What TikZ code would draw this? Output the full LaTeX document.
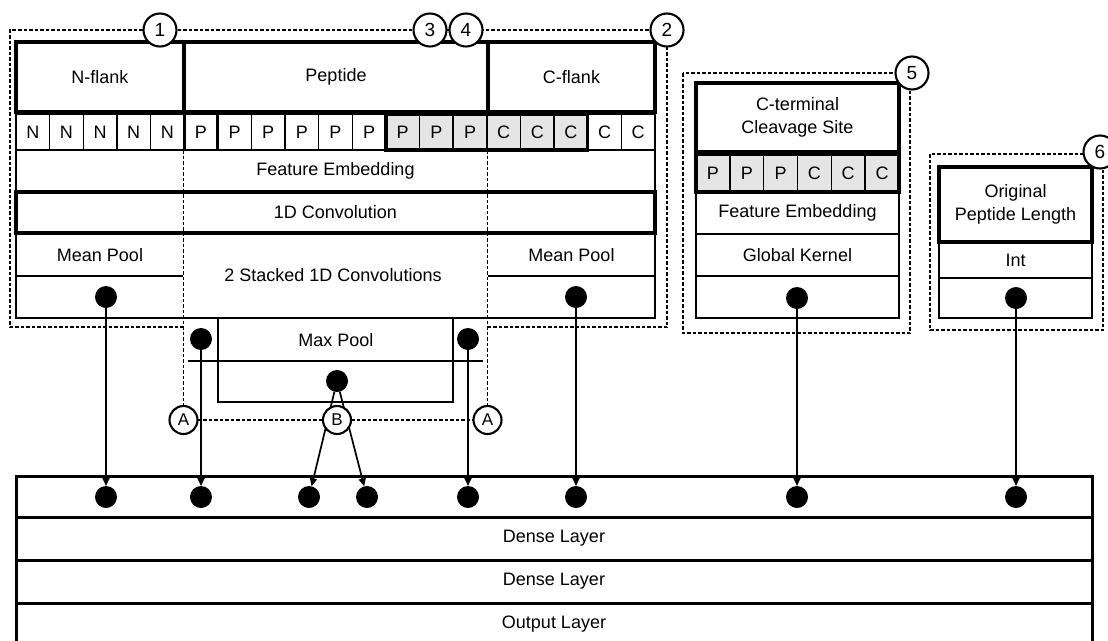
\documentclass[tikz,border=0pt]{standalone}
\usepackage{fontspec}
\setmainfont{Liberation Sans}
\usetikzlibrary{arrows.meta}
\definecolor{shadegray}{gray}{0.9}
\begin{document}
\begin{tikzpicture}[x=1pt,y=-1pt,
  every node/.style={font=\fontsize{18}{23}\selectfont, inner sep=0pt, outer sep=0pt},
  tbox/.style={draw, line width=1.8pt},
  kbox/.style={draw, line width=4.4pt},
  mbox/.style={draw, line width=3.2pt},
  bbox/.style={draw, line width=3pt},
  cellbox/.style={draw, line width=1.4pt, minimum height=36pt, anchor=north west},
  dashline/.style={line width=1.9pt, dash pattern=on 3.5pt off 2pt},
  dot/.style={circle, fill=black, minimum size=22pt},
  num/.style={circle, draw, fill=white, line width=2.1pt, minimum size=33pt, font=\fontsize{19}{19}\selectfont},
  lett/.style={circle, draw, fill=white, line width=2.1pt, minimum size=28pt, font=\fontsize{17}{17}\selectfont},
  arr/.style={-{Triangle[length=8pt,width=7pt]}, line width=1.7pt}
]
\useasboundingbox (0,0) rectangle (1108,640);
\clip (0,0) rectangle (1108,640);

% ---------- left main block ----------
\node[kbox, minimum width=168pt, minimum height=70pt] (nflank) at (100,77) {N-flank};
\node[kbox, minimum width=304pt, minimum height=70pt] (pep) at (336,77) {Peptide};
\node[kbox, minimum width=167pt, minimum height=70pt] (cflank) at (571.5,77) {C-flank};

\foreach \i/\t/\f in {0/N/white,1/N/white,2/N/white,3/N/white,4/N/white,
  5/P/white,6/P/white,7/P/white,8/P/white,9/P/white,10/P/white,
  11/P/shadegray,12/P/shadegray,13/P/shadegray,
  14/C/shadegray,15/C/shadegray,16/C/shadegray,17/C/white,18/C/white}
  \node[cellbox, fill=\f, minimum width=33.63pt] (cell\i) at ({16+\i*33.63},114) {\t};
\draw[line width=2.8pt] (cell5.north west) rectangle (cell5.south east);
\draw[line width=3.4pt] (cell11.north west) rectangle (cell16.south east);

\node[tbox, minimum width=639pt, minimum height=42pt] (fe) at (335.5,171) {Feature Embedding};
\node[mbox, minimum width=639pt, minimum height=41pt] (conv) at (335.5,212.5) {1D Convolution};
\node[tbox, minimum width=639pt, minimum height=85pt] (lower) at (335.5,275.5) {};
\node (stack) at (333,275.5) {2 Stacked 1D Convolutions};
\node (mpl) at (100,255) {Mean Pool};
\node (mpr) at (571.5,255) {Mean Pool};
\coordinate (mplA) at (16,276);
\coordinate (mplB) at (183,276);
\coordinate (mprA) at (488,276);
\coordinate (mprB) at (655,276);
\draw[line width=1.8pt] (mplA) -- (mplB);
\draw[line width=1.8pt] (mprA) -- (mprB);

% max pool
\node[tbox, minimum width=235pt, minimum height=84pt] (mpbox) at (335.5,360) {};
\node (maxpool) at (336,340) {Max Pool};
\coordinate (mpdl) at (188,361);
\coordinate (mpdr) at (483,361);
\draw[line width=1.4pt] (mpdl) -- (mpdr);

% ---------- box 5 ----------
\node[kbox, align=center, minimum width=203pt, minimum height=69pt] (cts) at (797.5,117.5) {C-terminal\\Cleavage Site};
\foreach \i/\t in {0/P,1/P,2/P,3/C,4/C,5/C}
  \node[cellbox, fill=shadegray, minimum width=33.83pt, minimum height=38pt] (sc\i) at ({696+\i*33.83},154) {\t};
\draw[line width=3.4pt] (sc0.north west) rectangle (sc5.south east);
\node[tbox, minimum width=203pt, minimum height=42pt] (fe2) at (797.5,213) {Feature Embedding};
\node[tbox, minimum width=203pt, minimum height=42pt] (gk) at (797.5,255) {Global Kernel};
\node[tbox, minimum width=203pt, minimum height=42pt] (dr5) at (797.5,297) {};

% ---------- box 6 ----------
\node[kbox, align=center, minimum width=153pt, minimum height=75pt] (opl) at (1015.5,204.5) {Original\\Peptide Length};
\node[tbox, minimum width=153pt, minimum height=36pt] (int) at (1015.5,260) {Int};
\node[tbox, minimum width=153pt, minimum height=40pt] (dr6) at (1015.5,298) {};

% ---------- bottom block ----------
\node[bbox, minimum width=1076pt, minimum height=41pt] (inrow) at (554,496.5) {};
\node[bbox, minimum width=1076pt, minimum height=43pt] (dense1) at (554,538.5) {Dense Layer};
\node[bbox, minimum width=1076pt, minimum height=43pt] (dense2) at (554,581.5) {Dense Layer};
\node[bbox, minimum width=1076pt, minimum height=43pt] (outl) at (554,624.5) {Output Layer};

% ---------- dots ----------
\node[dot] (dL) at (106,297) {};
\node[dot] (dPL) at (201,339) {};
\node[dot] (dM) at (337,381) {};
\node[dot] (dPR) at (468,339) {};
\node[dot] (dR) at (576,297) {};
\node[dot] (dC) at (797,298) {};
\node[dot] (dO) at (1016,298) {};

\node[dot] (b1) at (106,497) {};
\node[dot] (b2) at (201,497) {};
\node[dot] (b3) at (309,497) {};
\node[dot] (b4) at (367,497) {};
\node[dot] (b5) at (468,497) {};
\node[dot] (b6) at (576,497) {};
\node[dot] (b7) at (797,497) {};
\node[dot] (b8) at (1016,497) {};

% ---------- dashed frames ----------
\coordinate (f1a) at (183.5,327);
\coordinate (f1b) at (10,327);
\coordinate (f1c) at (10,30);
\coordinate (f1d) at (667,30);
\coordinate (f1e) at (667,327);
\coordinate (f1f) at (487.5,327);
\draw[dashline] (f1a) -- (f1b) -- (f1c) -- (f1d) -- (f1e) -- (f1f);
\coordinate (v1) at (183.5,150);
\coordinate (v2) at (487.5,150);
\node[lett] (A1) at (183.5,420) {A};
\node[lett] (A2) at (487.5,420) {A};
\draw[dashline] (v1) -- (A1);
\draw[dashline] (v2) -- (A2);

\draw[dashline] (683,73) rectangle (910,333);
\draw[dashline] (930,154) rectangle (1103,330);

% ---------- arrows ----------
\draw[arr] (dL) -- (b1);
\draw[arr] (dPL) -- (b2);
\draw[arr] (dM) -- (b3);
\draw[arr] (dM) -- (b4);
\draw[arr] (dPR) -- (b5);
\draw[arr] (dR) -- (b6);
\draw[arr] (dC) -- (b7);
\draw[arr] (dO) -- (b8);

\node[lett] (B) at (337,420) {B};
\draw[dashline] (A1) -- (B) -- (A2);

% ---------- numbered circles ----------
\node[num] (k1) at (160,30) {1};
\node[num] (k3) at (430,30) {3};
\node[num] (k4) at (466,30) {4};
\node[num] (k2) at (667,30) {2};
\node[num] (k5) at (912,73) {5};
\node[num] (k6) at (1100,152) {6};
\end{tikzpicture}
\end{document}
